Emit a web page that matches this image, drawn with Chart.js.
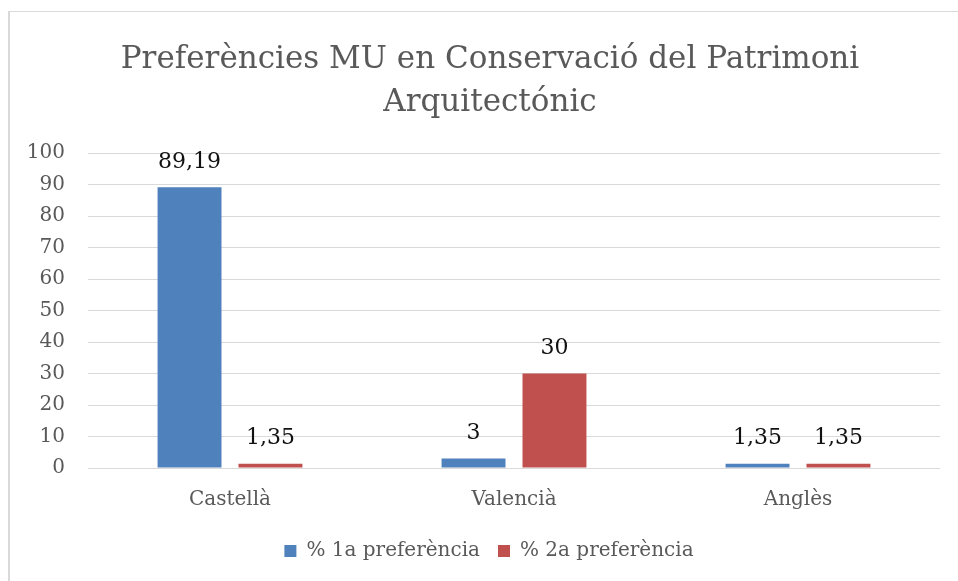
<!DOCTYPE html>
<html>
<head>
<meta charset="utf-8">
<script src="https://cdn.jsdelivr.net/npm/chart.js@4"></script>
<style>
  body { margin: 0; background: #fff; }
  #wrap { position: relative; width: 958px; height: 581px; }
  #frame { position: absolute; left: 8px; top: 11px; right: 0; bottom: 0;
           border-left: 2px solid #d9d9d9; border-top: 1px solid #d9d9d9; }
  #grafic { position: absolute; left: 0; top: 0; }
</style>
</head>
<body>
<div id="wrap">
  <div id="frame"></div>
  <canvas id="grafic" width="958" height="581"></canvas>
</div>
<script>
// dades del grafic
var llengues = ['Castellà', 'Valencià', 'Anglès'];
var primera = [89.19, 3, 1.35];
var segona = [1.35, 30, 1.35];
var nomsSeries = ['% 1a preferència', '% 2a preferència'];
var titol = ['Preferències MU en Conservació del Patrimoni', 'Arquitectónic'];

var gris = '#595959';
var lletra = "'DejaVu Serif', serif";

// etiquetes damunt de cada barra (amb coma decimal)
var etiquetes = {
  id: 'etiquetes',
  afterDatasetsDraw: function(chart){
    var ctx = chart.ctx;
    ctx.save();
    ctx.font = '22px ' + lletra;
    ctx.fillStyle = '#111';
    ctx.textAlign = 'center';
    ctx.textBaseline = 'middle';
    chart.data.datasets.forEach(function(ds, i){
      var meta = chart.getDatasetMeta(i);
      meta.data.forEach(function(barra, j){
        var txt = String(ds.data[j]).replace('.', ',');
        ctx.fillText(txt, barra.x, barra.y - 25);
      });
    });
    ctx.restore();
  }
};

// a l'original el titol i la llegenda estan centrats una mica mes a la dreta
var centrat = {
  id: 'centrat',
  afterLayout: function(chart){
    if (chart.titleBlock) chart.titleBlock.left += 20;
    if (chart.legend) chart.legend.left += 18;
  }
};

var ctx = document.getElementById('grafic');
new Chart(ctx, {
  type: 'bar',
  data: {
    labels: llengues,
    datasets: [{
      label: nomsSeries[0],
      data: primera,
      backgroundColor: '#4F81BD',
      categoryPercentage: 0.57,
      barPercentage: 0.79
    }, {
      label: nomsSeries[1],
      data: segona,
      backgroundColor: '#C0504D',
      categoryPercentage: 0.57,
      barPercentage: 0.79
    }]
  },
  options: {
    responsive: false,
    animation: false,
    layout: { padding: { left: 20, right: 18, top: 0, bottom: 10 } },
    plugins: {
      title: {
        display: true,
        text: titol,
        color: gris,
        font: { family: lletra, size: 31, weight: 'normal', lineHeight: 1.39 },
        padding: { top: 38, bottom: 29 }
      },
      legend: {
        position: 'bottom',
        labels: {
          color: gris,
          boxWidth: 12,
          boxHeight: 12,
          padding: 18,
          font: { family: lletra, size: 20 }
        }
      },
      tooltip: { enabled: false }
    },
    scales: {
      x: {
        afterFit: function(axis){ axis.height -= 1; },
        grid: { display: false },
        border: { display: false },
        ticks: { color: gris, padding: 12, font: { family: lletra, size: 20 } }
      },
      y: {
        min: 0,
        max: 100,
        afterFit: function(axis){ axis.width = 68; },
        grid: { color: '#d9d9d9', drawTicks: false },
        border: { display: false },
        ticks: { stepSize: 10, color: gris, padding: 23, font: { family: lletra, size: 20 } }
      }
    }
  },
  plugins: [etiquetes, centrat]
});
</script>
</body>
</html>
